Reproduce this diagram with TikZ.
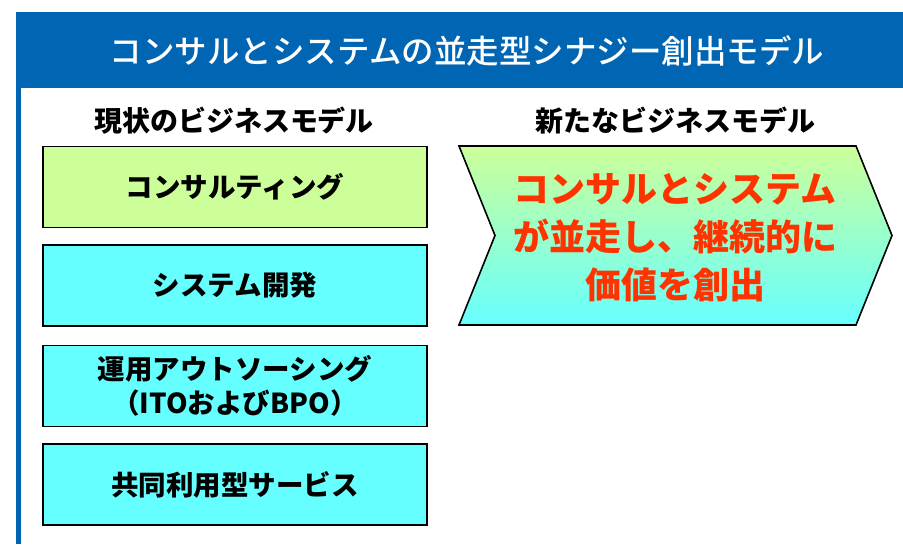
\documentclass[tikz,border=0pt]{standalone}
\usepackage{fontspec}
\newfontfamily\jp{Noto Sans CJK JP}[BoldFont={Noto Sans CJK JP Black}]
\newfontfamily\jpmed{Noto Sans CJK JP Medium}
\definecolor{hdrblue}{HTML}{0066B3}
\definecolor{lgreen}{HTML}{CCFF99}
\definecolor{lcyan}{HTML}{66FFFF}
\definecolor{redtxt}{HTML}{FF3300}
\begin{document}
\begin{tikzpicture}[x=1pt,y=-1pt,
  box/.style={draw=black,line width=1.6pt,minimum width=384pt,minimum height=81pt,inner sep=0pt,align=center,font=\jp\bfseries\fontsize{27.5}{34}\selectfont},
  heading/.style={font=\jp\bfseries\fontsize{28}{30}\selectfont},
]
\useasboundingbox (0,0) rectangle (903,544);
% frame
\fill[hdrblue] (16,12) rectangle (903,88);
\fill[hdrblue] (16,88) rectangle (21,544);
\node[font=\jpmed\fontsize{32.5}{36}\selectfont,text=white] (title) at (467,51) {コンサルとシステムの並走型シナジー創出モデル};
% headings
\node[heading] (cur) at (234,121) {現状のビジネスモデル};
\node[heading] (new) at (675,121) {新たなビジネスモデル};
% left boxes
\node[box,fill=lgreen] (b1) at (235,187) {コンサルティング};
\node[box,fill=lcyan] (b2) at (235,285.5) {システム開発};
\node[box,fill=lcyan] (b3) at (235,386) {運用アウトソーシング\\（ITOおよびBPO）};
\node[box,fill=lcyan] (b4) at (235,484.5) {共同利用型サービス};
% chevron
\shade[top color=lgreen,bottom color=lcyan] (459,146) -- (856,146) -- (892,235.5) -- (856,325) -- (459,325) -- (495,235.5) -- cycle;
\draw[line width=1.6pt,line join=miter] (459,146) -- (856,146) -- (892,235.5) -- (856,325) -- (459,325) -- (495,235.5) -- cycle;
\node[align=center,text=redtxt,font=\jp\bfseries\fontsize{36}{48}\selectfont] (chev) at (675,238) {コンサルとシステム\\が並走し、継続的に\\価値を創出};
\end{tikzpicture}
\end{document}
